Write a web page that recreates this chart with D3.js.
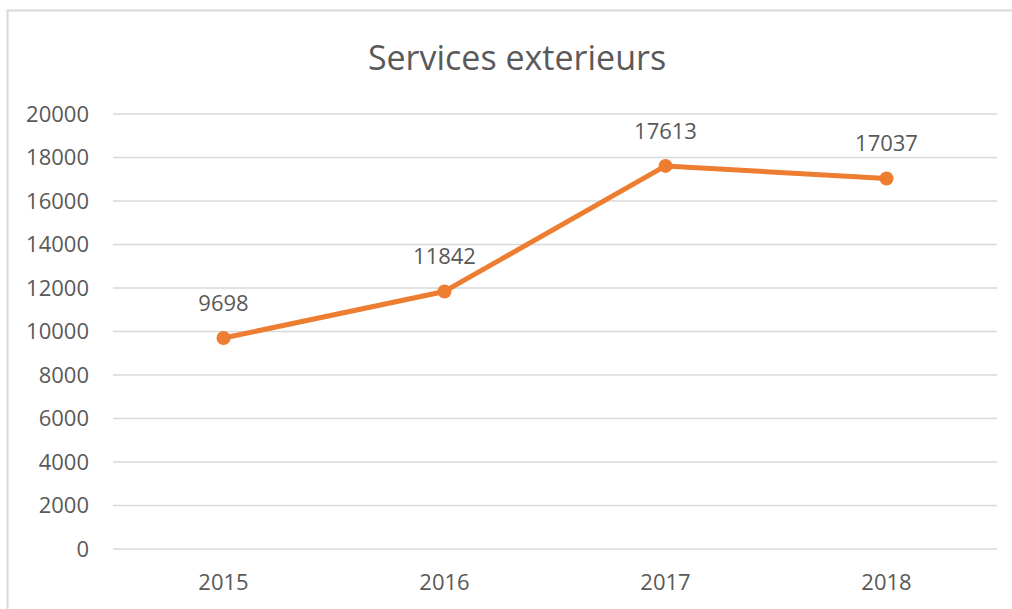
<!DOCTYPE html>
<html><head><meta charset="utf-8">
<script src="https://cdn.jsdelivr.net/npm/d3@7"></script>
<style>
html,body{margin:0;padding:0;background:#fff;}
svg{display:block;}
text{font-family:"Open Sans","Noto Sans",sans-serif;fill:#595959;}
</style></head>
<body>
<script>
const title = "Services exterieurs";
const categories = ["2015", "2016", "2017", "2018"];
const values = [9698, 11842, 17613, 17037];
const yTicks = [0, 2000, 4000, 6000, 8000, 10000, 12000, 14000, 16000, 18000, 20000];

(function () {
const W = 1012, H = 609;
const svg = d3.select("body").append("svg").attr("width", W).attr("height", H);

// chart border
svg.append("rect").attr("x", 7.5).attr("y", 10.5).attr("width", W + 10).attr("height", H + 10)
  .attr("fill", "#fff").attr("stroke", "#d9d9d9").attr("stroke-width", 2);

const mLeft = 113, mRight = 997, mTop = 114, mBottom = 549;
const x = d3.scaleBand().domain(categories).range([mLeft, mRight]);
const y = d3.scaleLinear().domain([0, 20000]).range([mBottom, mTop]);

// gridlines
svg.append("g").selectAll("line").data(yTicks).join("line")
  .attr("x1", mLeft).attr("x2", mRight)
  .attr("y1", d => y(d)).attr("y2", d => y(d))
  .attr("stroke", "#d9d9d9").attr("stroke-width", 1.5);

// y axis labels
const yAxis = d3.axisLeft(y).tickValues(yTicks).tickSize(0).tickPadding(0).tickFormat(d3.format("d"));
const gy = svg.append("g").attr("transform", `translate(${89},0)`).call(yAxis);
gy.select(".domain").remove();
gy.selectAll("text").attr("font-size", 22).attr("fill", "#595959")
  .style("font-family", '"Open Sans","Noto Sans",sans-serif');

// x axis labels
const xAxis = d3.axisBottom(x).tickSize(0).tickPadding(0);
const gx = svg.append("g").attr("transform", `translate(0,${590})`).call(xAxis);
gx.select(".domain").remove();
gx.selectAll("text").attr("font-size", 22).attr("fill", "#595959").attr("dy", 0)
  .style("font-family", '"Open Sans","Noto Sans",sans-serif');

// title
svg.append("text").attr("x", 517).attr("y", 70).attr("text-anchor", "middle")
  .attr("font-size", 34).text(title);

const cx = d => x(d) + x.bandwidth() / 2;
const pts = categories.map((c, i) => [cx(c), y(values[i])]);

svg.append("path").attr("d", d3.line()(pts)).attr("fill", "none")
  .attr("stroke", "#ED7D31").attr("stroke-width", 5).attr("stroke-linejoin", "round");

svg.append("g").selectAll("circle").data(pts).join("circle")
  .attr("cx", d => d[0]).attr("cy", d => d[1]).attr("r", 7).attr("fill", "#ED7D31");

svg.append("g").selectAll("text").data(values).join("text")
  .attr("x", (d, i) => cx(categories[i])).attr("y", d => y(d) - 27)
  .attr("text-anchor", "middle").attr("font-size", 22).text(d => d);
})();
</script>
</body></html>
